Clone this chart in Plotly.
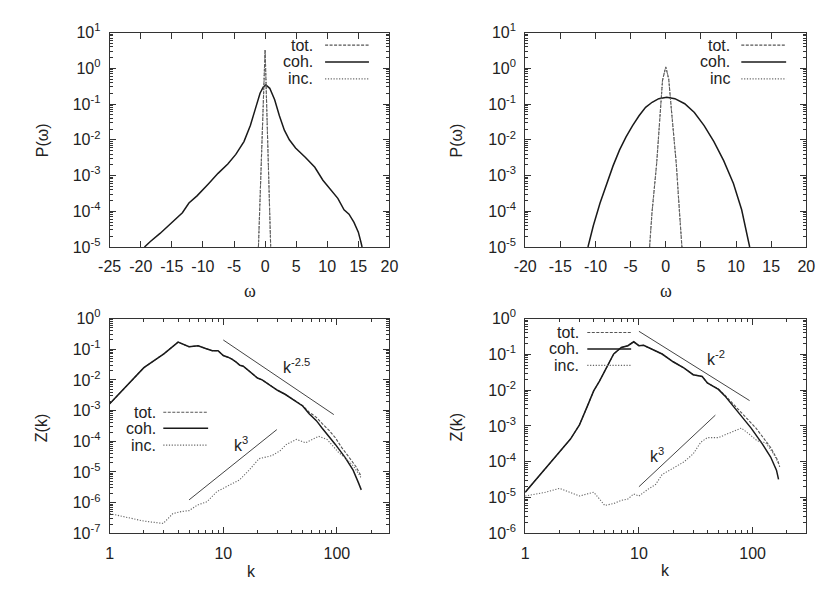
import numpy as np
import plotly.graph_objects as go

# ---------------- data ----------------
# top-left: P(omega)
tl_coh_w = [-19.4, -18.5, -16.9, -14.85, -13.3, -12.25, -10.95, -9.13, -7.57, -6.0, -4.71, -3.4,
            -2.37, -1.59, -0.81, -0.29, 0.13, 0.75, 1.54, 2.3, 3.1, 3.9, 4.9, 6.5, 8.0, 9.3,
            10.6, 11.7, 12.7, 13.5, 14.3, 15.0, 15.4, 15.6]
tl_coh_p = [1.0e-5, 1.41e-5, 2.4e-5, 5.1e-5, 9.1e-5, 1.7e-4, 2.7e-4, 5.8e-4, 1.15e-3, 2.1e-3, 3.9e-3, 8.9e-3,
            0.025, 0.071, 0.20, 0.30, 0.34, 0.275, 0.132, 0.047, 0.0186, 0.010, 5.9e-3, 3.2e-3, 1.7e-3, 7.4e-4,
            4.0e-4, 2.3e-4, 1.1e-4, 8.3e-5, 4.9e-5, 2.6e-5, 1.4e-5, 1.0e-5]
tl_inc_w = [-1.07, -0.5, 0.0, 0.45, 0.9]
tl_inc_p = [1.0e-5, 8.7e-3, 3.3, 5.8e-3, 1.0e-5]
tl_tot_w = [-1.07, -0.5, 0.0, 0.45, 0.9]
tl_tot_p = [1.0e-5, 8.7e-3, 3.3, 5.8e-3, 1.0e-5]

# top-right: P(omega)
tr_coh_w = [-11.07, -10.3, -9.35, -8.43, -7.5, -6.57, -5.65, -4.72, -3.8, -2.87, -1.94, -1.0, 0.14,
            1.3, 2.7, 4.07, 5.46, 6.85, 8.24, 9.63, 10.8, 11.94]
tr_coh_p = [1.0e-5, 4.0e-5, 1.7e-4, 6.0e-4, 1.86e-3, 5.2e-3, 0.012, 0.025, 0.047, 0.081, 0.112, 0.141, 0.155,
            0.141, 0.102, 0.058, 0.025, 8.9e-3, 2.6e-3, 6.0e-4, 1.1e-4, 1.0e-5]
tr_inc_w = [-2.3, -1.96, -1.3, -0.83, -0.46, 0.0, 0.42, 0.88, 1.5, 1.96, 2.3]
tr_inc_p = [1.0e-5, 9.1e-5, 2.1e-3, 0.047, 0.46, 1.1, 0.5, 0.047, 2.1e-3, 9.1e-5, 1.0e-5]
tr_tot_w = [-2.3, -1.96, -1.3, -0.83, -0.46, 0.0, 0.42, 0.88, 1.5, 1.96, 2.3]
tr_tot_p = [1.0e-5, 9.1e-5, 2.1e-3, 0.047, 0.46, 1.1, 0.5, 0.047, 2.1e-3, 9.1e-5, 1.0e-5]

# bottom-left: Z(k)
bl_coh_k = [1, 2, 3, 4, 5, 6, 7, 8, 9, 10, 11, 12, 13, 14, 15, 16, 18, 20, 22, 25, 30, 35, 41,
            50, 57, 66, 74, 85, 97, 118, 139, 155, 164]
bl_coh_z = [1.66e-3, 0.025, 0.071, 0.17, 0.12, 0.129, 0.105, 0.089, 0.089, 0.062, 0.055, 0.047, 0.038,
            0.030, 0.028, 0.023, 0.0166, 0.0115, 0.010, 7.1e-3, 4.6e-3, 3.4e-3, 2.3e-3,
            1.41e-3, 7.9e-4, 4.7e-4, 2.7e-4, 1.5e-4, 7.9e-5, 3.0e-5, 1.15e-5, 4.4e-6, 2.6e-6]
bl_tot_k = [1, 2, 3, 4, 5, 6, 7, 8, 9, 10, 11, 12, 13, 14, 15, 16, 18, 20, 22, 25, 30, 35, 41,
            50, 57, 66, 74, 85, 97, 110, 125, 148, 164]
bl_tot_z = [1.66e-3, 0.025, 0.071, 0.17, 0.12, 0.129, 0.105, 0.089, 0.089, 0.062, 0.055, 0.047, 0.038,
            0.030, 0.028, 0.023, 0.0166, 0.0115, 0.010, 7.1e-3, 4.6e-3, 3.4e-3, 2.3e-3,
            1.45e-3, 8.9e-4, 6.0e-4, 3.8e-4, 2.3e-4, 1.3e-4, 6.3e-5, 3.4e-5, 1.45e-5, 7.1e-6]
bl_inc_k = [1, 2, 2.96, 3.6, 4.25, 5.0, 5.9, 7.2, 8.8, 10.7, 13.9, 16.9, 20.6, 26.8, 31.6, 36, 44,
            53, 61, 69, 82, 94, 103, 121, 139, 158, 164]
bl_inc_z = [4.4e-7, 2.5e-7, 2.1e-7, 4.4e-7, 5.1e-7, 5.5e-7, 8.3e-7, 1.07e-6, 2.3e-6, 3.4e-6, 5.5e-6,
            1.15e-5, 2.7e-5, 3.4e-5, 4.9e-5, 7.9e-5, 1.15e-4, 8.9e-5, 1.15e-4, 1.45e-4, 1.15e-4,
            6.3e-5, 4.4e-5, 2.7e-5, 1.6e-5, 7.9e-6, 6.3e-6]
bl_ref1_k = [10, 94]        # k^-2.5 guide
bl_ref1_z = [0.2, 7.4e-4]
bl_ref2_k = [5, 29.6]       # k^3 guide
bl_ref2_z = [1.23e-6, 2.4e-4]

# bottom-right: Z(k)
br_coh_k = [1, 1.5, 2, 2.5, 3, 3.5, 4, 4.5, 5, 5.5, 6, 7, 8, 9, 10, 11, 12, 14, 16, 20, 25, 30,
            36, 40, 50, 57, 74.5, 97, 122, 144, 162, 169]
br_coh_z = [1.4e-5, 6.6e-5, 1.86e-4, 4.3e-4, 1.07e-3, 3.4e-3, 9.5e-3, 0.0178, 0.033, 0.062, 0.102,
            0.155, 0.174, 0.224, 0.174, 0.178, 0.155, 0.126, 0.102, 0.062, 0.041, 0.027,
            0.024, 0.0158, 0.0105, 6.9e-3, 2.45e-3, 8.7e-4, 3.1e-4, 1.35e-4, 5.8e-5, 3.2e-5]
br_tot_k = [1, 1.5, 2, 2.5, 3, 3.5, 4, 4.5, 5, 5.5, 6, 7, 8, 9, 10, 11, 12, 14, 16, 20, 25, 30,
            36, 40, 50, 57, 74.5, 97, 107, 144, 166, 173]
br_tot_z = [1.4e-5, 6.6e-5, 1.86e-4, 4.3e-4, 1.07e-3, 3.4e-3, 9.5e-3, 0.0178, 0.033, 0.062, 0.102,
            0.155, 0.174, 0.224, 0.174, 0.178, 0.155, 0.126, 0.102, 0.062, 0.041, 0.027,
            0.024, 0.0158, 0.0108, 7.2e-3, 3.0e-3, 1.2e-3, 8.7e-4, 2.5e-4, 1.1e-4, 7.2e-5]
br_inc_k = [1, 1.5, 2, 2.5, 3, 3.5, 4, 4.5, 5, 6, 7, 8, 9, 10, 12, 14, 16, 20, 25, 30, 35, 40, 50,
            60, 70, 79.5, 94, 110, 130, 153, 169]
br_inc_z = [1.1e-5, 1.4e-5, 1.8e-5, 1.4e-5, 1.1e-5, 1.26e-5, 1.4e-5, 9.1e-6, 6.0e-6, 6.8e-6, 8.3e-6,
            9.1e-6, 1.26e-5, 1.1e-5, 1.7e-5, 2.3e-5, 4.4e-5, 6.6e-5, 1.0e-4, 1.66e-4, 3.5e-4, 4.7e-4,
            4.7e-4, 6.0e-4, 7.4e-4, 8.7e-4, 5.8e-4, 3.8e-4, 3.4e-4, 1.66e-4, 8.9e-5]
br_ref1_k = [10, 94]        # k^-2 guide
br_ref1_z = [0.44, 5.1e-3]
br_ref2_k = [10, 47]        # k^3 guide
br_ref2_z = [2.0e-5, 2.0e-3]

# tick labels
top_x_ticks_l = [-25, -20, -15, -10, -5, 0, 5, 10, 15, 20]
top_x_ticks_r = [-20, -15, -10, -5, 0, 5, 10, 15, 20]
top_y_exps = [-5, -4, -3, -2, -1, 0, 1]
bl_y_exps = [-7, -6, -5, -4, -3, -2, -1, 0]
br_y_exps = [-6, -5, -4, -3, -2, -1, 0]
k_ticks = [1, 10, 100]

legend_top_l = ["tot.", "coh.", "inc."]
legend_top_r = ["tot.", "coh.", "inc"]
legend_bot = ["tot.", "coh.", "inc."]

# ---------------- styling ----------------
W, H = 831, 592
FONT = "Liberation Sans"
AX = "#333333"
COH = dict(color="#1a1a1a", width=1.5)
TOT = dict(color="#555555", width=1.1, dash="3px,1.5px")
INC = dict(color="#666666", width=1.1, dash="1.2px,1.6px")
REF = dict(color="#444444", width=1.0)

def px(x):
    return x / W

def py(y):
    return 1 - y / H

fig = go.Figure()

def add(x, y, line, n):
    fig.add_trace(go.Scatter(x=x, y=y, mode="lines", line=line, showlegend=False,
                             xaxis="x" + n, yaxis="y" + n, hoverinfo="skip"))

add(tl_tot_w, tl_tot_p, TOT, "")
add(tl_coh_w, tl_coh_p, COH, "")
add(tl_inc_w, tl_inc_p, INC, "")
add(tr_tot_w, tr_tot_p, TOT, "2")
add(tr_coh_w, tr_coh_p, COH, "2")
add(tr_inc_w, tr_inc_p, INC, "2")
add(bl_tot_k, bl_tot_z, TOT, "3")
add(bl_coh_k, bl_coh_z, COH, "3")
add(bl_inc_k, bl_inc_z, INC, "3")
add(bl_ref1_k, bl_ref1_z, REF, "3")
add(bl_ref2_k, bl_ref2_z, REF, "3")
add(br_tot_k, br_tot_z, TOT, "4")
add(br_coh_k, br_coh_z, COH, "4")
add(br_inc_k, br_inc_z, INC, "4")
add(br_ref1_k, br_ref1_z, REF, "4")
add(br_ref2_k, br_ref2_z, REF, "4")

tickfont = dict(family=FONT, size=16, color="#222222")
common = dict(showline=True, linecolor=AX, linewidth=1, mirror="allticks", ticks="inside",
              ticklen=6, tickcolor=AX, tickwidth=1, showgrid=False, zeroline=False,
              tickfont=tickfont)

def exp_labels(exps):
    return [10.0 ** e for e in exps], ["10<sup>%d</sup>" % e for e in exps]

minor_log = dict(ticks="inside", ticklen=3, tickcolor=AX, dtick="D1", showgrid=False)

xl_dom = [px(92), px(379)]
xr_dom = [px(518.3), px(806.7)]
yt_dom = [py(236), py(14)]
yb_dom = [py(532.3), py(310)]

tv, tt = exp_labels(top_y_exps)
bv, bt = exp_labels(bl_y_exps)
rv, rt = exp_labels(br_y_exps)

fig.update_layout(
    width=W, height=H, margin=dict(l=0, r=0, t=0, b=0),
    paper_bgcolor="white", plot_bgcolor="white", showlegend=False,
    xaxis=dict(domain=xl_dom, anchor="y", range=[-25, 20], tickmode="array",
               tickvals=top_x_ticks_l, ticktext=[str(v) for v in top_x_ticks_l], ticklabelstandoff=5, **common),
    yaxis=dict(domain=yt_dom, anchor="x", type="log", range=[-5, 1], tickmode="array",
               tickvals=tv, ticktext=tt, minor=minor_log, ticklabelstandoff=5, **common),
    xaxis2=dict(domain=xr_dom, anchor="y2", range=[-20, 20], tickmode="array",
                tickvals=top_x_ticks_r, ticktext=[str(v) for v in top_x_ticks_r], ticklabelstandoff=5, **common),
    yaxis2=dict(domain=yt_dom, anchor="x2", type="log", range=[-5, 1], tickmode="array",
                tickvals=tv, ticktext=tt, minor=minor_log, ticklabelstandoff=5, **common),
    xaxis3=dict(domain=xl_dom, anchor="y3", type="log", range=[0, 2.4626], tickmode="array",
                tickvals=k_ticks, ticktext=[str(v) for v in k_ticks], minor=minor_log, ticklabelstandoff=5, **common),
    yaxis3=dict(domain=yb_dom, anchor="x3", type="log", range=[-7, 0], tickmode="array",
                tickvals=bv, ticktext=bt, minor=minor_log, ticklabelstandoff=5, **common),
    xaxis4=dict(domain=xr_dom, anchor="y4", type="log", range=[0, 2.472], tickmode="array",
                tickvals=k_ticks, ticktext=[str(v) for v in k_ticks], minor=minor_log, ticklabelstandoff=5, **common),
    yaxis4=dict(domain=yb_dom, anchor="x4", type="log", range=[-6, 0], tickmode="array",
                tickvals=rv, ticktext=rt, minor=minor_log, ticklabelstandoff=5, **common),
)

ann = []
shapes = []
lab = dict(family=FONT, size=16, color="#222222")

def text(x, y, s, font=lab, xanchor="center", angle=0, xref="paper", yref="paper"):
    ann.append(dict(x=x, y=y, xref=xref, yref=yref, text=s, showarrow=False, font=font,
                    xanchor=xanchor, yanchor="middle", textangle=angle))

# axis titles
serif = dict(family="Liberation Serif", size=18, color="#222222")
text(px(23), py(125), "P(ω)", angle=-90)
text(px(448), py(126), "P(ω)", angle=-90)
text(px(236), py(281), "ω", font=serif)
text(px(663), py(281), "ω", font=serif)
text(px(22), py(423), "Z(k)", angle=-90)
text(px(448), py(423), "Z(k)", angle=-90)
text(px(237), py(572), "k")
text(px(662), py(571), "k")

# in-plot labels (log axes -> log10 positions)
text(np.log10(44), -1.55, "k<sup>-2.5</sup>", xref="x3", yref="y3")
text(np.log10(14.3), -4.1, "k<sup>3</sup>", xref="x3", yref="y3")
text(np.log10(48), -1.1, "k<sup>-2</sup>", xref="x4", yref="y4")
text(np.log10(14.5), -3.8, "k<sup>3</sup>", xref="x4", yref="y4")

# legends (text right-aligned, sample line to the right)
def legend(labels, x_text, x0, x1, ys):
    styles = [TOT, COH, INC]
    for s, y, st in zip(labels, ys, styles):
        text(px(x_text), py(y), s, xanchor="right")
        shapes.append(dict(type="line", xref="paper", yref="paper", x0=px(x0), x1=px(x1),
                           y0=py(y), y1=py(y), line=st))

legend(legend_top_l, 303, 313, 358, [27, 44.5, 62])
legend(legend_top_r, 730, 740, 786, [27, 44.5, 62])
legend(legend_bot, 142, 147, 193, [407, 423.5, 441])
legend(legend_bot, 576, 582, 627, [324.5, 341.5, 358.5])

fig.update_layout(annotations=ann, shapes=shapes)
fig.write_html("out.html")
